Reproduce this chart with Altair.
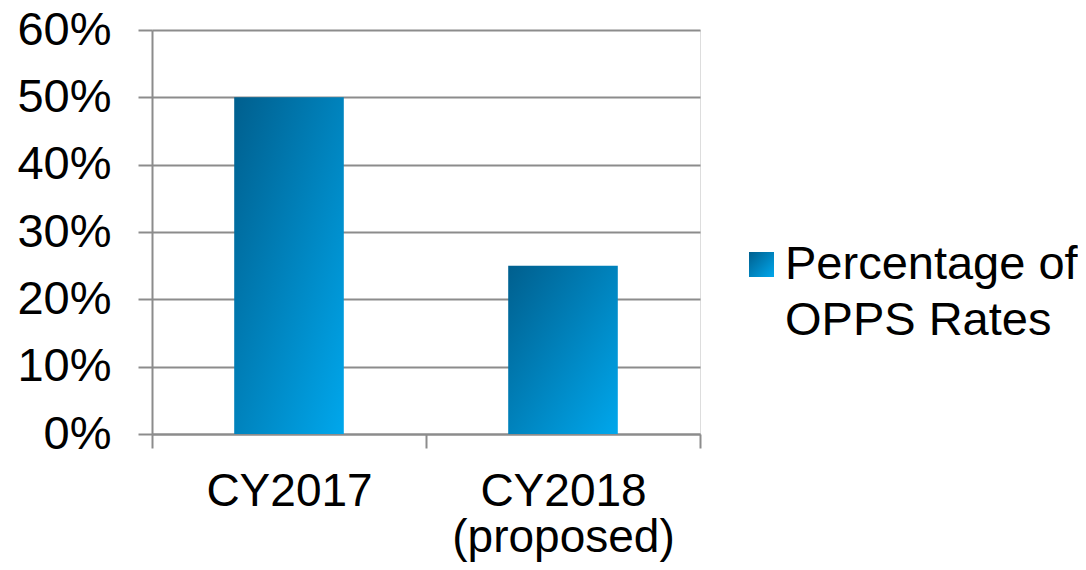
import altair as alt
import pandas as pd

categories = ["CY2017", "CY2018\n(proposed)"]
values = [0.50, 0.25]
series_name = "Percentage of\nOPPS Rates"
y_ticks = [0, 0.1, 0.2, 0.3, 0.4, 0.5, 0.6]

df = pd.DataFrame({"cat": categories, "val": values, "series": [series_name] * len(categories)})

FONT = "Liberation Sans"
GRID = "#8c8c8c"

grad_expr = ("{'gradient': 'linear', 'x1': 0, 'y1': 0, 'x2': 1, 'y2': 1, "
             "'stops': [{'offset': 0, 'color': '#005f8e'}, {'offset': 1, 'color': '#00a7ec'}]}")

chart = alt.Chart(df).mark_bar(width=alt.RelativeBandSize(0.4)).encode(
    x=alt.X("cat:N", sort=categories, title=None,
            scale=alt.Scale(paddingInner=0, paddingOuter=0),
            axis=alt.Axis(labelAngle=0, labelFontSize=46, labelFont=FONT, labelColor="black",
                          labelExpr="split(datum.label, '\\n')", labelLineHeight=46,
                          labelPadding=21, tickSize=14, tickColor=GRID, tickWidth=2,
                          tickBand="extent", domainColor=GRID, domainWidth=2,
                          labelLimit=0)),
    y=alt.Y("val:Q", title=None,
            scale=alt.Scale(domain=[0, 0.6], nice=False),
            axis=alt.Axis(values=y_ticks, format=".0%", labelFontSize=47, labelFont=FONT,
                          labelColor="black", labelPadding=27, tickSize=14, tickColor=GRID,
                          tickWidth=2, domainColor=GRID, domainWidth=2, grid=True,
                          gridColor=GRID, gridWidth=2)),
    color=alt.Color("series:N", title=None,
                    scale=alt.Scale(range=[alt.ExprRef(grad_expr)]),
                    legend=alt.Legend(orient="none", legendX=586, legendY=211,
                                      symbolType="square", symbolSize=625,
                                      symbolStrokeWidth=0,
                                      labelFontSize=47, labelFont=FONT, labelColor="black",
                                      labelExpr="split(datum.label, '\\n')",
                                      labelLimit=0, labelOffset=0, padding=0)),
).properties(
    width=548, height=404,
    autosize=alt.AutoSizeParams(type="none"),
    padding={"left": 144, "top": 22, "right": 378, "bottom": 128},
).configure_view(stroke=None).configure(style={"guide-label": {"lineHeight": 56}})

chart.save("out.html", embed_options={"renderer": "svg", "actions": False})
